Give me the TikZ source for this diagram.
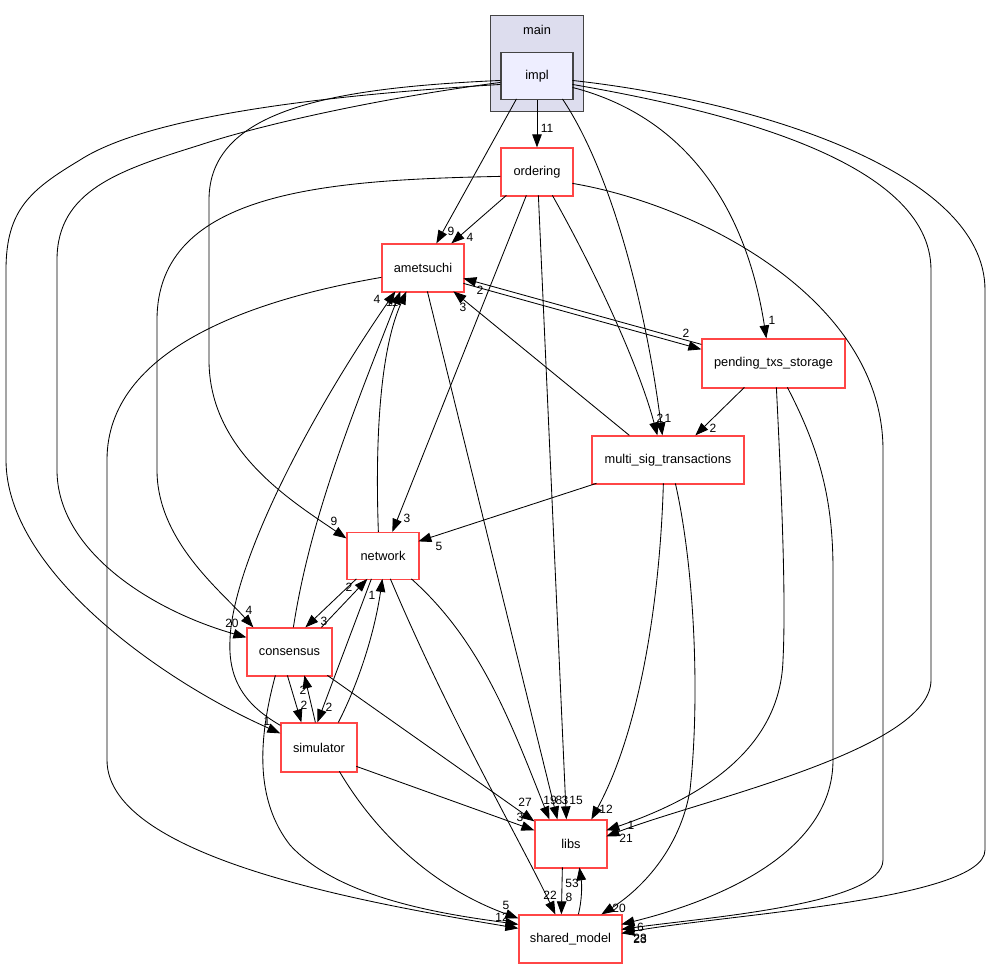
\documentclass[tikz,border=0pt]{standalone}
\usepackage{fontspec}
\setmainfont{Liberation Sans}
\usetikzlibrary{arrows.meta}
\definecolor{clfill}{RGB}{221,221,238}
\definecolor{implfill}{RGB}{238,238,255}
\definecolor{darkline}{RGB}{68,68,68}
\definecolor{dirred}{RGB}{255,70,70}
\begin{document}
\begin{tikzpicture}[x=1pt,y=-1pt,
  dirbox/.style={draw=dirred, line width=1.25pt, fill=white, minimum width=#1, minimum height=48pt, inner sep=0pt, font=\fontsize{12.8}{15}\selectfont},
  dep/.style={draw=black, line width=0.85pt, -{Triangle[length=13pt,width=9.5pt]}},
  lbl/.style={font=\fontsize{12}{14}\selectfont, inner sep=0pt}]
\fill[white] (0,0) rectangle (989,969);
\useasboundingbox (0,0) rectangle (989,969);

% cluster
\node[draw=darkline, fill=clfill, line width=1.1pt, minimum width=93pt, minimum height=96pt, inner sep=0pt] (main) at (537,63.5) {};
\node[font=\fontsize{12.8}{15}\selectfont, inner sep=0pt] (mainlbl) at (537,30) {main};
\node[draw=darkline, fill=implfill, line width=1.1pt, minimum width=72pt, minimum height=47pt, inner sep=0pt, font=\fontsize{12.8}{15}\selectfont] (impl) at (537,76) {impl};

% nodes
\node[dirbox=72pt] (ordering) at (537,172) {ordering};
\node[dirbox=82pt] (ametsuchi) at (423,268) {ametsuchi};
\node[dirbox=143pt, minimum height=49pt] (pending) at (773.5,363.5) {pending\_txs\_storage};
\node[dirbox=152pt] (multi) at (668,460) {multi\_sig\_transactions};
\node[dirbox=72pt, minimum height=47pt] (network) at (383,556) {network};
\node[dirbox=85pt] (consensus) at (289.5,652) {consensus};
\node[dirbox=76pt, minimum height=49pt] (simulator) at (319,747.5) {simulator};
\node[dirbox=72pt] (libs) at (571,844) {libs};
\node[dirbox=103pt] (shared) at (570.5,939) {shared\_model};

% edges from impl
\draw[dep] (impl.south) -- (ordering.north);
\draw[dep] ([shift={(16,47)}]impl.north west) -- ([shift={(55,0)}]ametsuchi.north west);
\draw[dep] ([shift={(0,28.5)}]impl.north west) .. controls (330,88) and (209,110) .. (209,200) -- (209,360) .. controls (209,450) and (290,500) .. ([shift={(0,6.5)}]network.north west);
\draw[dep] ([shift={(0,30.5)}]impl.north west) .. controls (380,98) and (260,125) .. (200,145) .. controls (120,170) and (57,190) .. (57,260) -- (57,470) .. controls (57,550) and (150,610) .. ([shift={(0,10)}]consensus.north west);
\draw[dep] ([shift={(0,32.5)}]impl.north west) .. controls (330,95) and (150,115) .. (80,160) .. controls (30,190) and (6,210) .. (6,270) -- (6,460) .. controls (6,570) and (160,680) .. ([shift={(0,11)}]simulator.north west);
\draw[dep] ([shift={(62,47)}]impl.north west) .. controls (610,170) and (645,300) .. ([shift={(71,0)}]multi.north west);
\draw[dep] ([shift={(72,35.5)}]impl.north west) .. controls (680,115) and (745,200) .. ([shift={(65,0)}]pending.north west);
\draw[dep] ([shift={(72,32.5)}]impl.north west) .. controls (720,110) and (931,160) .. (931,270) -- (931,680) .. controls (931,750) and (700,800) .. ([shift={(72,17)}]libs.north west);
\draw[dep] ([shift={(72,28.5)}]impl.north west) .. controls (750,100) and (985,170) .. (985,290) -- (985,850) .. controls (985,900) and (720,915) .. ([shift={(103,19)}]shared.north west);

% edges from ordering
\draw[dep] ([shift={(52,48)}]ordering.north west) .. controls (600,280) and (640,370) .. ([shift={(66,0)}]multi.north west);
\draw[dep] ([shift={(72,36)}]ordering.north west) .. controls (700,205) and (883,300) .. (883,450) -- (883,860) .. controls (883,905) and (700,918) .. ([shift={(103,15)}]shared.north west);
\draw[dep] ([shift={(6,48)}]ordering.north west) -- ([shift={(70,0)}]ametsuchi.north west);
\draw[dep] ([shift={(26,48)}]ordering.north west) -- ([shift={(46,0)}]network.north west);
\draw[dep] ([shift={(38,48)}]ordering.north west) -- ([shift={(32,0)}]libs.north west);
\draw[dep] ([shift={(0,29)}]ordering.north west) .. controls (330,180) and (157,190) .. (157,320) -- (157,470) .. controls (157,540) and (220,590) .. ([shift={(7,0)}]consensus.north west);

% pending
\draw[dep] ([shift={(75,49)}]pending.north west) .. controls (782,500) and (786,600) .. (783,660) .. controls (780,760) and (680,805) .. ([shift={(72,11)}]libs.north west);
\draw[dep] ([shift={(86,49)}]pending.north west) .. controls (820,450) and (833,500) .. (833,570) -- (833,760) .. controls (833,860) and (700,905) .. ([shift={(103,10)}]shared.north west);
\draw[dep] ([shift={(0,6)}]pending.north west) -- ([shift={(82,35)}]ametsuchi.north west);
\draw[dep] ([shift={(43,49)}]pending.north west) -- ([shift={(104,0)}]multi.north west);

% ametsuchi
\draw[dep] ([shift={(82,40)}]ametsuchi.north west) -- ([shift={(0,11)}]pending.north west);
\draw[dep] ([shift={(46,48)}]ametsuchi.north west) -- ([shift={(23,0)}]libs.north west);
\draw[dep] ([shift={(0,34)}]ametsuchi.north west) .. controls (250,300) and (107,350) .. (107,460) -- (107,760) .. controls (107,860) and (380,905) .. ([shift={(0,14)}]shared.north west);

% multi_sig
\draw[dep] ([shift={(38,0)}]multi.north west) -- ([shift={(72,48)}]ametsuchi.north west);
\draw[dep] ([shift={(5,48)}]multi.north west) -- ([shift={(72,9.5)}]network.north west);
\draw[dep] ([shift={(72,48)}]multi.north west) .. controls (660,600) and (640,730) .. ([shift={(57,0)}]libs.north west);
\draw[dep] ([shift={(84,48)}]multi.north west) .. controls (695,570) and (700,700) .. (690,790) .. controls (680,850) and (640,890) .. ([shift={(83,0)}]shared.north west);

% network
\draw[dep] ([shift={(32,0)}]network.north west) .. controls (375,440) and (380,350) .. ([shift={(25,48)}]ametsuchi.north west);
\draw[dep] ([shift={(10,47)}]network.north west) -- ([shift={(59,0)}]consensus.north west);
\draw[dep] ([shift={(25,47)}]network.north west) -- ([shift={(37,0)}]simulator.north west);
\draw[dep] ([shift={(65,47)}]network.north west) .. controls (480,640) and (510,720) .. ([shift={(15,0)}]libs.north west);
\draw[dep] ([shift={(44,47)}]network.north west) .. controls (450,720) and (520,840) .. ([shift={(37,0)}]shared.north west);

% consensus
\draw[dep] ([shift={(47,0)}]consensus.north west) .. controls (310,520) and (350,420) .. ([shift={(19,48)}]ametsuchi.north west);
\draw[dep] ([shift={(75,0)}]consensus.north west) -- ([shift={(21,47)}]network.north west);
\draw[dep] ([shift={(41,48)}]consensus.north west) -- ([shift={(21,0)}]simulator.north west);
\draw[dep] ([shift={(81,48)}]consensus.north west) -- ([shift={(0,2)}]libs.north west);
\draw[dep] ([shift={(29,48)}]consensus.north west) .. controls (258,740) and (255,800) .. (290,845) .. controls (340,900) and (450,915) .. ([shift={(0,10)}]shared.north west);

% simulator
\draw[dep] ([shift={(0,3)}]simulator.north west) .. controls (245,705) and (228,680) .. (230,640) .. controls (232,570) and (300,430) .. ([shift={(14,48)}]ametsuchi.north west);
\draw[dep] ([shift={(35,0)}]simulator.north west) -- ([shift={(58,48)}]consensus.north west);
\draw[dep] ([shift={(58,0)}]simulator.north west) .. controls (360,680) and (375,630) .. ([shift={(36,47)}]network.north west);
\draw[dep] ([shift={(76,44)}]simulator.north west) -- ([shift={(0,11)}]libs.north west);
\draw[dep] ([shift={(59,49)}]simulator.north west) .. controls (380,840) and (440,890) .. ([shift={(0,4)}]shared.north west);

% libs / shared_model
\draw[dep] ([shift={(28,48)}]libs.north west) -- ([shift={(43,0)}]shared.north west);
\draw[dep] ([shift={(60,0)}]shared.north west) .. controls (582,900) and (582,885) .. ([shift={(45,48)}]libs.north west);

% labels
\node[lbl] (l1) at (547,128) {11};
\node[lbl] (l2) at (451,231) {9};
\node[lbl] (l3) at (470,237) {4};
\node[lbl] (l4) at (334,521) {9};
\node[lbl] (l5) at (407,518) {3};
\node[lbl] (l6) at (439,546) {5};
\node[lbl] (l7) at (232,623) {20};
\node[lbl] (l8) at (249,610) {4};
\node[lbl] (l9) at (267,721) {1};
\node[lbl] (l10) at (660,418) {2};
\node[lbl] (l11) at (668,418) {1};
\node[lbl] (l12) at (772,320) {1};
\node[lbl] (l13) at (686,333) {2};
\node[lbl] (l14) at (480,290) {2};
\node[lbl] (l15) at (463,307) {3};
\node[lbl] (l16) at (377,299) {4};
\node[lbl] (l17) at (392,302) {11};
\node[lbl] (l18) at (713,428) {2};
\node[lbl] (l19) at (349,587) {2};
\node[lbl] (l20) at (324,621) {3};
\node[lbl] (l21) at (372,595) {1};
\node[lbl] (l22) at (303,690) {2};
\node[lbl] (l23) at (304,705) {2};
\node[lbl] (l24) at (329,707) {2};
\node[lbl] (l25) at (525,802) {27};
\node[lbl] (l26) at (520,817) {3};
\node[lbl] (l27) at (550,800) {19};
\node[lbl] (l28) at (559,800) {8};
\node[lbl] (l29) at (565,800) {3};
\node[lbl] (l30) at (576,800) {15};
\node[lbl] (l31) at (606,809) {12};
\node[lbl] (l32) at (631,825) {1};
\node[lbl] (l33) at (626,838) {21};
\node[lbl] (l34) at (572,883) {53};
\node[lbl] (l35) at (569,897) {8};
\node[lbl] (l36) at (550,895) {22};
\node[lbl] (l37) at (619,908) {20};
\node[lbl] (l38) at (506,905) {5};
\node[lbl] (l39) at (502,917) {12};
\node[lbl] (l40) at (637,927) {16};
\node[lbl] (l41) at (640,938) {28};
\node[lbl] (l42) at (640,939) {23};
\end{tikzpicture}
\end{document}
